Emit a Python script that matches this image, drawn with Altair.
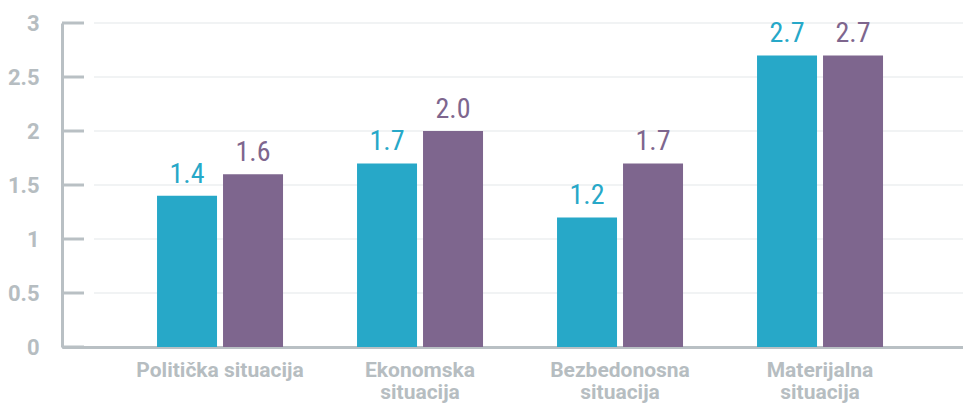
import altair as alt
import pandas as pd

categories = ["Politička situacija", "Ekonomska situacija", "Bezbedonosna situacija", "Materijalna situacija"]
series = ["Grupa 1", "Grupa 2"]
values_1 = [1.4, 1.7, 1.2, 2.7]
values_2 = [1.6, 2.0, 1.7, 2.7]
y_ticks = [0, 0.5, 1, 1.5, 2, 2.5, 3]

TEAL = "#27A8C8"
PURPLE = "#7E668E"
AXIS_GRAY = "#B9C0C4"
LABEL_GRAY = "#B6BDC1"
GRID = "#ECEFF1"

rows = []
for c, a, b in zip(categories, values_1, values_2):
    rows.append({"category": c, "series": series[0], "value": a})
    rows.append({"category": c, "series": series[1], "value": b})
df = pd.DataFrame(rows)
ticks_df = pd.DataFrame({"v": y_ticks})
grid_df = pd.DataFrame({"v": [t for t in y_ticks if t > 0]})

W, H = 901, 324

yscale = alt.Scale(domain=[0, 3], nice=False)

base = alt.Chart(df).encode(
    x=alt.X(
        "category:N",
        sort=categories,
        scale=alt.Scale(paddingInner=0.37, paddingOuter=0.4375, align=0.543),
        axis=alt.Axis(
            title=None,
            labelAngle=0,
            labelFont="Roboto",
            labelFontWeight="bold",
            labelFontSize=21,
            labelColor=LABEL_GRAY,
            labelPadding=12,
            labelLineHeight=22,
            labelLimit=300,
            labelBaseline="top",
            ticks=False,
            domain=True,
            domainColor=AXIS_GRAY,
            domainWidth=3,
            grid=False,
            labelExpr="datum.label == 'Politička situacija' ? datum.label : split(datum.label, ' ')",
        ),
    ),
    xOffset=alt.XOffset("series:N", sort=series, scale=alt.Scale(paddingInner=1 / 11)),
    y=alt.Y(
        "value:Q",
        scale=yscale,
        axis=alt.Axis(
            title=None,
            values=y_ticks,
            format="~g",
            labelFont="Roboto",
            labelFontWeight="bold",
            labelFontSize=22,
            labelColor=LABEL_GRAY,
            labelPadding=23,
            ticks=False,
            domain=True,
            domainColor=AXIS_GRAY,
            domainWidth=3,
            grid=False,
        ),
    ),
    color=alt.Color("series:N", scale=alt.Scale(domain=series, range=[TEAL, PURPLE]), legend=None),
)

bars = base.mark_bar()
labels = base.mark_text(
    dy=-13, baseline="alphabetic",
    font="Roboto Condensed, DejaVu Sans Condensed, Roboto", fontSize=28
).encode(text=alt.Text("value:Q", format=".1f"))

grid = alt.Chart(grid_df).mark_rule(color=GRID, strokeWidth=1.5).encode(
    y=alt.Y("v:Q", scale=yscale),
    x=alt.value(32),
    x2=alt.value(W),
)
tick_rules = alt.Chart(ticks_df).mark_rule(color=AXIS_GRAY, strokeWidth=3).encode(
    y=alt.Y("v:Q", scale=yscale),
    x=alt.value(0),
    x2=alt.value(22),
)

chart = (
    alt.layer(grid, tick_rules, bars, labels)
    .properties(
        width=W,
        height=H,
        autosize=alt.AutoSizeParams(type="none"),
        padding={"left": 54, "top": 15, "right": 0, "bottom": 56},
    )
    .configure_view(stroke=None)
)

chart.save("out.html", embed_options={"renderer": "svg", "actions": False})
